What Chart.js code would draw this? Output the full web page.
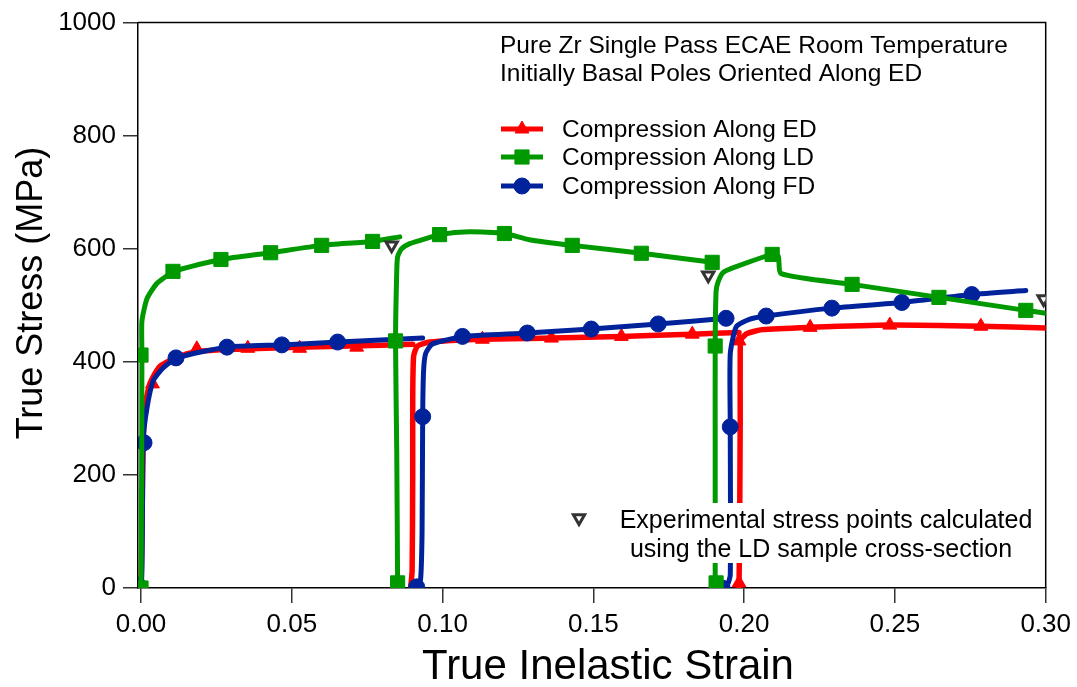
<!DOCTYPE html>
<html>
<head>
<meta charset="utf-8">
<script src="https://cdn.jsdelivr.net/npm/chart.js@4.4.0/dist/chart.umd.min.js"></script>
<style>
  html, body { margin: 0; padding: 0; background: #fff; }
  #c { display: block; }
</style>
</head>
<body>
<canvas id="c" width="1077" height="687"></canvas>
<script>
// Axis ticks and titles
const xTicks = [0, 0.05, 0.10, 0.15, 0.20, 0.25, 0.30];
const yTicks = [0, 200, 400, 600, 800, 1000];
const xTitle = 'True Inelastic Strain';
const yTitle = 'True Stress (MPa)';

// Compression along ED: three loading passes, [true inelastic strain, true stress MPa]
const edPass1 = [[0,0],[0.0003,100],[0.0007,250],[0.0013,320],[0.0030,362],[0.0063,392],[0.0129,410],[0.0195,419],[0.0361,423],[0.0692,428],[0.0901,431]];
const edPass2 = [[0.0894,0],[0.0899,30],[0.0901,200],[0.0901,331],[0.0904,410],[0.0917,428],[0.0957,435],[0.1132,440],[0.1361,442],[0.1593,445],[0.1828,449],[0.1983,452]];
const edPass3 = [[0.1983,0],[0.1985,100],[0.1987,300],[0.1987,419],[0.1990,440],[0.2010,450],[0.2060,457],[0.2220,461],[0.2483,465],[0.2785,463],[0.3000,460]];
const edMarks = [[0,0],[0.0038,361],[0.0185,423],[0.0354,424],[0.0526,424],[0.0715,426],[0.1132,440],[0.1361,442],[0.1593,445],[0.1828,449],[0.1983,9],[0.1983,437],[0.2219,461],[0.2483,465],[0.2785,463]];

// Compression along LD
const ldPass1 = [[0,0],[0.0002,200],[0.0003,412],[0.0003,472],[0.0020,512],[0.0053,539],[0.0096,556],[0.0106,560],[0.0265,581],[0.0430,593],[0.0599,606],[0.0768,613],[0.0858,621]];
const ldPass2 = [[0.0851,0],[0.0848,243],[0.0844,437],[0.0848,560],[0.0851,586],[0.0864,600],[0.0891,609],[0.0934,616],[0.0990,625],[0.1089,630],[0.1205,627],[0.1288,616],[0.1430,606],[0.1659,592],[0.1894,576]];
const ldPass3 = [[0.1904,0],[0.1904,243],[0.1904,428],[0.1907,525],[0.1914,542],[0.1930,558],[0.1967,567],[0.2093,590],[0.2113,587],[0.2123,556],[0.2358,537],[0.2646,514],[0.2934,491],[0.3000,486]];
const ldMarks = [[0,0],[0,412],[0.0106,560],[0.0265,581],[0.0430,593],[0.0599,606],[0.0768,613],[0.0851,9],[0.0844,437],[0.0990,625],[0.1205,627],[0.1430,606],[0.1659,592],[0.1894,576],[0.1907,9],[0.1904,428],[0.2093,590],[0.2358,537],[0.2646,514],[0.2934,491]];

// Compression along FD
const fdPass1 = [[-0.0010,2],[0.0002,15],[0.0005,150],[0.0007,261],[0.0020,319],[0.0040,366],[0.0073,389],[0.0119,407],[0.0285,426],[0.0467,430],[0.0656,435],[0.0934,442]];
const fdPass2 = [[0.0914,2],[0.0927,15],[0.0932,100],[0.0934,303],[0.0937,384],[0.0944,415],[0.0964,431],[0.1007,438],[0.1066,445],[0.1281,451],[0.1493,458],[0.1715,467],[0.1940,477]];
const fdPass3 = [[0.1927,0],[0.1944,5],[0.1954,23],[0.1954,285],[0.1954,414],[0.1974,462],[0.2017,475],[0.2073,481],[0.2291,495],[0.2523,505],[0.2755,519],[0.2934,526]];
const fdMarks = [[-0.0010,5],[0.0010,257],[0.0116,407],[0.0285,426],[0.0467,430],[0.0652,435],[0.0914,2],[0.0934,303],[0.1066,445],[0.1281,451],[0.1493,458],[0.1715,467],[0.1940,477],[0.1927,0],[0.1954,285],[0.2073,481],[0.2291,495],[0.2523,505],[0.2755,519]];

// Experimental stress points from the LD sample cross-section
const ldSectionPoints = [[0.0831,606],[0.1881,553],[0.2993,511]];

const seriesNames = ['Compression Along ED', 'Compression Along LD', 'Compression Along FD'];
const titleLines = ['Pure Zr Single Pass ECAE Room Temperature', 'Initially Basal Poles Oriented Along ED'];
const noteLines = ['Experimental stress points calculated', 'using the LD sample cross-section'];

const RED = '#ff0000', GREEN = '#009900', BLUE = '#00239c', GRAY = '#333333';
const FONT = "'Liberation Sans', Arial, sans-serif";
Chart.defaults.font.family = FONT;

const toXY = arr => arr.map(([x, y]) => ({ x, y }));
const curve = (data, color, width, order) => ({
  data: toXY(data), showLine: true, borderColor: color, backgroundColor: color,
  borderWidth: width, pointRadius: 0, tension: 0.2, fill: false, order,
  borderCapStyle: 'round', borderJoinStyle: 'round'
});
const marks = (data, color, style, radius, order) => ({
  data: toXY(data), showLine: false, pointStyle: style, pointRadius: radius,
  pointBackgroundColor: color, pointBorderColor: color, pointBorderWidth: 1, order
});

const legendItems = [
  { label: seriesNames[0], color: RED, style: 'triangle', radius: 8, width: 5 },
  { label: seriesNames[1], color: GREEN, style: 'rect', radius: 10, width: 5 },
  { label: seriesNames[2], color: BLUE, style: 'circle', radius: 8, width: 5 }
];

// Box around the plotting area (top and right edges)
const framePlugin = {
  id: 'frame',
  beforeDatasetsDraw(chart) {
    const { ctx, chartArea: a } = chart;
    ctx.save();
    ctx.strokeStyle = '#000';
    ctx.lineWidth = 1.5;
    ctx.beginPath();
    ctx.moveTo(a.left, a.top);
    ctx.lineTo(a.right, a.top);
    ctx.lineTo(a.right, a.bottom);
    ctx.stroke();
    ctx.restore();
  }
};

// Axis titles
const axisTitlePlugin = {
  id: 'axisTitles',
  afterDraw(chart) {
    const { ctx } = chart;
    ctx.save();
    ctx.fillStyle = '#000';
    ctx.textAlign = 'center';
    ctx.textBaseline = 'middle';
    ctx.font = `42px ${FONT}`;
    ctx.fillText(xTitle, 608, 667);
    ctx.translate(32, 293);
    ctx.rotate(-Math.PI / 2);
    ctx.font = `36px ${FONT}`;
    ctx.fillText(yTitle, 0, 0);
    ctx.restore();
  }
};

// Note with a white backing, drawn above the curves
const notePlugin = {
  id: 'note',
  afterDatasetsDraw(chart) {
    const { ctx } = chart;
    ctx.save();
    ctx.fillStyle = '#fff';
    ctx.fillRect(566, 503, 474, 60);
    ctx.fillStyle = '#fff';
    ctx.strokeStyle = GRAY;
    ctx.lineWidth = 3;
    Chart.helpers.drawPoint(ctx, { pointStyle: 'triangle', radius: 6.5, rotation: 180, borderWidth: 3 }, 579, 518);
    ctx.fillStyle = '#000';
    ctx.font = `25px ${FONT}`;
    ctx.textAlign = 'center';
    ctx.textBaseline = 'middle';
    ctx.fillText(noteLines[0], 826, 521);
    ctx.fillText(noteLines[1], 821, 550);
    ctx.restore();
  }
};

// Title text and series key in the upper right
const keyPlugin = {
  id: 'key',
  afterDraw(chart) {
    const { ctx } = chart;
    ctx.save();
    ctx.fillStyle = '#000';
    ctx.font = `24.5px ${FONT}`;
    ctx.textAlign = 'left';
    ctx.textBaseline = 'middle';
    ctx.fillText(titleLines[0], 500, 46);
    ctx.fillText(titleLines[1], 500, 74);
    const rows = [129, 157, 186];
    legendItems.forEach((it, i) => {
      const y = rows[i];
      ctx.strokeStyle = it.color;
      ctx.lineWidth = it.width;
      ctx.lineCap = 'butt';
      ctx.beginPath();
      ctx.moveTo(501, y);
      ctx.lineTo(543, y);
      ctx.stroke();
      ctx.fillStyle = it.color;
      ctx.lineWidth = 1;
      Chart.helpers.drawPoint(ctx, { pointStyle: it.style, radius: it.radius, rotation: 0, borderWidth: 1 }, 522, y);
      ctx.fillStyle = '#000';
      ctx.font = `24.5px ${FONT}`;
      ctx.fillText(it.label, 562, y + 1);
    });
    ctx.restore();
  }
};

new Chart(document.getElementById('c'), {
  type: 'scatter',
  data: {
    datasets: [
      {
        data: toXY(ldSectionPoints), showLine: false, pointStyle: 'triangle', pointRotation: 180,
        pointRadius: 6.5, pointBackgroundColor: '#fff', pointBorderColor: GRAY, pointBorderWidth: 3, order: 0
      },
      marks(ldMarks, GREEN, 'rect', 10, 1),
      curve(ldPass1, GREEN, 5, 2), curve(ldPass2, GREEN, 5, 2), curve(ldPass3, GREEN, 5, 2),
      marks(fdMarks, BLUE, 'circle', 8, 3),
      curve(fdPass1, BLUE, 5, 4), curve(fdPass2, BLUE, 5, 4), curve(fdPass3, BLUE, 5, 4),
      marks(edMarks, RED, 'triangle', 8, 5),
      curve(edPass1, RED, 5.5, 6), curve(edPass2, RED, 5.5, 6), curve(edPass3, RED, 5.5, 6)
    ]
  },
  options: {
    responsive: false,
    animation: false,
    devicePixelRatio: 1,
    layout: { padding: { top: 20, right: 30, left: 0, bottom: 0 } },
    plugins: { legend: { display: false }, tooltip: { enabled: false } },
    scales: {
      x: {
        type: 'linear', min: -0.001, max: 0.30,
        afterBuildTicks: s => { s.ticks = xTicks.map(v => ({ value: v })); },
        afterFit: s => { s.height = 99; },
        border: { display: true, color: '#000', width: 1.5 },
        grid: { drawOnChartArea: false, drawTicks: true, tickLength: 15, color: GRAY, lineWidth: 1.5 },
        ticks: { color: '#000', font: { size: 26 }, padding: 6, maxRotation: 0, callback: v => v.toFixed(2) },
        title: { display: false }
      },
      y: {
        type: 'linear', min: 0, max: 1000,
        afterBuildTicks: s => { s.ticks = yTicks.map(v => ({ value: v })); },
        afterFit: s => { s.width = 138; },
        border: { display: true, color: '#000', width: 1.5 },
        grid: { drawOnChartArea: false, drawTicks: true, tickLength: 15, color: GRAY, lineWidth: 1.5 },
        ticks: { color: '#000', font: { size: 26 }, padding: 7, callback: v => String(v) },
        title: { display: false }
      }
    }
  },
  plugins: [framePlugin, axisTitlePlugin, notePlugin, keyPlugin]
});
</script>
</body>
</html>
